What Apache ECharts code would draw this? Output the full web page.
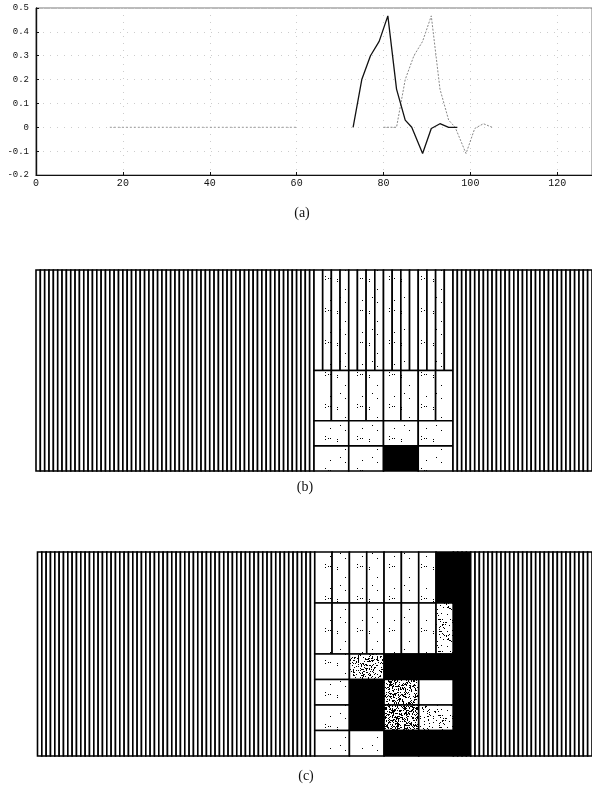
<!DOCTYPE html>
<html><head><meta charset="utf-8">
<script src="https://cdn.jsdelivr.net/npm/echarts@6/dist/echarts.min.js"></script>
<style>html,body{margin:0;padding:0;background:#fff}#chart{width:592px;height:791px}</style>
</head><body><div id="chart"></div>
<script>
// ---------- Panel (a): two shifted wavelet packets ----------
const xTickStep = 20;
const yTicks = [-0.2, -0.1, 0, 0.1, 0.2, 0.3, 0.4, 0.5];
const solidX  = [73, 75, 77, 79, 81, 83, 85, 86.5, 89, 91, 93, 95, 97];
const solidY  = [0, 0.2, 0.3, 0.36, 0.467, 0.16, 0.03, 0, -0.11, -0.005, 0.015, 0, 0];
const dottedX = [80, 83, 85, 87, 89, 91, 93, 95, 96.5, 99, 101, 103, 105];
const dottedY = [0, 0, 0.2, 0.3, 0.36, 0.467, 0.16, 0.03, 0, -0.11, -0.005, 0.015, 0];
const baselineX = [17, 60];
const baselineY = [0, 0];

// ---------- Panel (b) tiling: [tStart, tEnd, fLow, fHigh, tileWidth] ----------
const bBlocks = [[0,64,0,1,1],[64,96,0.5,1,2],[64,96,0.25,0.5,4],[64,96,0.125,0.25,8],[64,96,0,0.125,8],[96,128,0,1,1]];
// shade per tile (0 white, 1 sparse dots, 2..5 stipple, 6 black); null = all white
const bShades = [null, [1,1,1,1,1,1,1,1,1,1,1,1,1,1,1,1], [1,1,1,1,1,1,1,1], [1,1,1,1], [1,1,6,1], null];

// ---------- Panel (c) tiling ----------
const cBlocks = [[0,64,0,1,1],[64,96,0.75,1,4],[64,96,0.5,0.75,4],[64,96,0.375,0.5,8],[64,96,0.25,0.375,8],[64,96,0.125,0.25,8],[64,96,0,0.125,8],[96,100,0,1,1],[100,128,0,1,1]];
const cShades = [null, [1,1,1,1,1,1,1,6], [1,1,1,1,1,1,1,2], [1,3,6,6], [1,6,4,0], [1,6,5,2], [1,1,6,6], [6,6,6,6], null];

const captions = ['(a)', '(b)', '(c)'];

// ---------- textures ----------
function stipple(count, seed){
  const N = 32;
  const c = document.createElement('canvas'); c.width = N; c.height = N;
  const g = c.getContext('2d'); g.fillStyle = '#fff'; g.fillRect(0,0,N,N);
  g.fillStyle = '#000';
  let s = seed;
  for (let k = 0; k < count; k++){
    s = (s * 16807) % 2147483647; const px = s % N;
    s = (s * 16807) % 2147483647; const py = s % N;
    g.fillRect(px, py, 1, 1);
  }
  return {image: c, repeat: 'repeat'};
}
const fills = ['#ffffff', stipple(10, 7), stipple(110, 11), stipple(240, 13), stipple(380, 17), stipple(480, 19), '#000000'];

function tiles(blocks, shades){
  const out = [];
  blocks.forEach((b, i) => {
    const n = (b[1] - b[0]) / b[4];
    for (let k = 0; k < n; k++){
      const sh = shades[i] ? shades[i][k] : 0;
      out.push([b[0] + k*b[4], b[0] + (k+1)*b[4], b[2], b[3], sh]);
    }
  });
  return out;
}
function renderTile(params, api){
  const p0 = api.coord([api.value(0), api.value(3)]);
  const p1 = api.coord([api.value(1), api.value(2)]);
  return {type:'rect', shape:{x:p0[0], y:p0[1], width:p1[0]-p0[0], height:p1[1]-p0[1]},
    style:{fill: fills[api.value(4)], stroke:'#000', lineWidth:1.6}};
}

const font = 'Liberation Mono';
const chart = echarts.init(document.getElementById('chart'), null, {renderer:'canvas'});
chart.setOption({
  animation:false,
  backgroundColor:'#fff',
  grid:[
    {left:36, top:8, width:557, height:167, show:true, borderColor:'#777', borderWidth:1},
    {left:36, top:270, width:560, height:201},
    {left:37.5, top:552, width:562, height:204}
  ],
  xAxis:[
    {gridIndex:0, type:'value', min:0, max:128, interval:xTickStep,
     axisLine:{onZero:false, lineStyle:{color:'#111', width:1.2}}, axisTick:{inside:true, length:3, lineStyle:{color:'#111'}},
     axisLabel:{showMaxLabel:false, margin:3, color:'#111', fontFamily:font, fontSize:10},
     splitLine:{show:true, lineStyle:{color:'#ccc', type:[1,6], width:1}}},
    {gridIndex:1, type:'value', min:0, max:128, show:false},
    {gridIndex:2, type:'value', min:0, max:128, show:false}
  ],
  yAxis:[
    {gridIndex:0, type:'value', min:yTicks[0], max:yTicks[yTicks.length-1], interval:0.1,
     axisLine:{show:true, onZero:false, lineStyle:{color:'#111', width:1.4}}, axisTick:{show:true, inside:true, length:3, lineStyle:{color:'#111'}},
     axisLabel:{margin:7, color:'#111', fontFamily:font, fontSize:9},
     splitLine:{show:true, lineStyle:{color:'#ccc', type:[1,6], width:1}}},
    {gridIndex:1, type:'value', min:0, max:1, show:false},
    {gridIndex:2, type:'value', min:0, max:1, show:false}
  ],
  series:[
    {type:'line', xAxisIndex:0, yAxisIndex:0, data:baselineX.map((x,i)=>[x, baselineY[i]]), symbol:'none',
     lineStyle:{color:'#999', width:1, type:[2,2]}},
    {type:'line', xAxisIndex:0, yAxisIndex:0, data:dottedX.map((x,i)=>[x, dottedY[i]]), symbol:'none',
     lineStyle:{color:'#888', width:1, type:[2,1.5]}},
    {type:'line', xAxisIndex:0, yAxisIndex:0, data:solidX.map((x,i)=>[x, solidY[i]]), symbol:'none',
     lineStyle:{color:'#111', width:1.3}},
    {type:'custom', xAxisIndex:1, yAxisIndex:1, renderItem:renderTile, encode:{x:[0,1], y:[2,3]},
     data:tiles(bBlocks, bShades)},
    {type:'custom', xAxisIndex:2, yAxisIndex:2, renderItem:renderTile, encode:{x:[0,1], y:[2,3]},
     data:tiles(cBlocks, cShades)}
  ],
  graphic:[
    {type:'text', x:302, y:213, style:{text:captions[0], font:'14px "Liberation Serif"', fill:'#111', textAlign:'center', textVerticalAlign:'middle'}},
    {type:'text', x:305, y:487, style:{text:captions[1], font:'14px "Liberation Serif"', fill:'#111', textAlign:'center', textVerticalAlign:'middle'}},
    {type:'text', x:306, y:776, style:{text:captions[2], font:'14px "Liberation Serif"', fill:'#111', textAlign:'center', textVerticalAlign:'middle'}}
  ]
});
</script>
</body></html>
